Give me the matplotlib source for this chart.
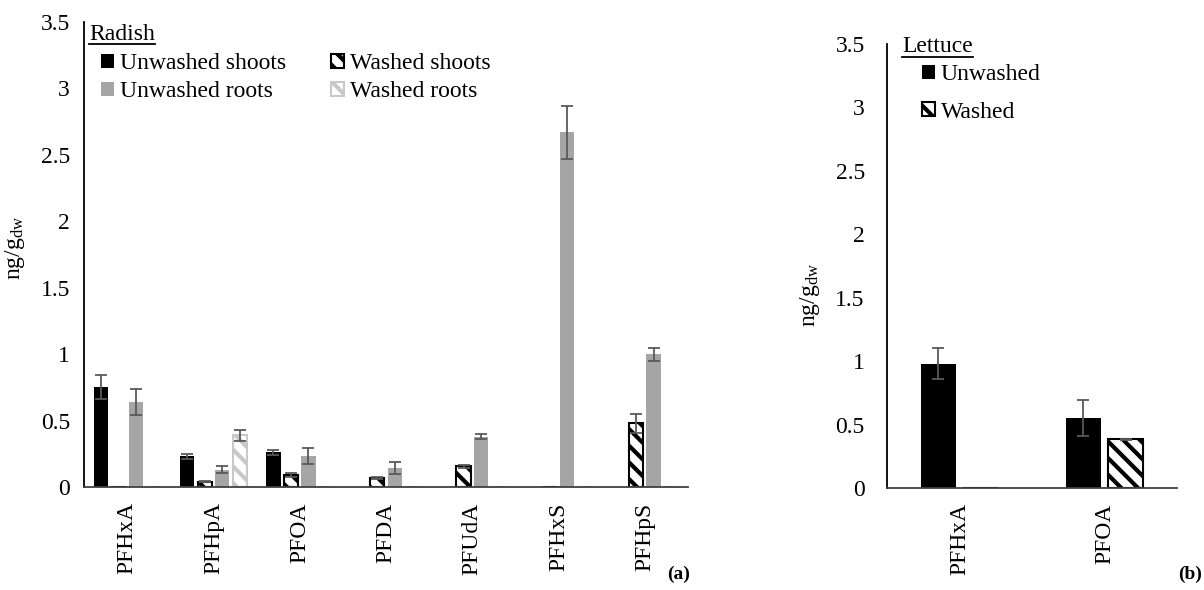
import numpy as np
import matplotlib
matplotlib.use("Agg")
import matplotlib.pyplot as plt
from matplotlib.lines import Line2D

plt.rcParams['font.family'] = ['Liberation Serif', 'DejaVu Serif']
plt.rcParams['mathtext.fontset'] = 'custom'
plt.rcParams['mathtext.rm'] = 'Liberation Serif'
plt.rcParams['mathtext.it'] = 'Liberation Serif:italic'
plt.rcParams['hatch.linewidth'] = 3.0

# ---------------- data ----------------
radish_cats = ["PFHxA", "PFHpA", "PFOA", "PFDA", "PFUdA", "PFHxS", "PFHpS"]
radish_series = ["Unwashed shoots", "Washed shoots", "Unwashed roots", "Washed roots"]
unwashed_shoots = [0.75, 0.23, 0.26, 0.0, 0.0, 0.0, 0.0]
unwashed_shoots_err = [0.09, 0.02, 0.02, 0.0, 0.0, 0.0, 0.0]
washed_shoots = [0.0, 0.04, 0.09, 0.07, 0.155, 0.0, 0.48]
washed_shoots_err = [0.0, 0.005, 0.015, 0.008, 0.01, 0.0, 0.07]
unwashed_roots = [0.64, 0.13, 0.23, 0.14, 0.38, 2.67, 1.0]
unwashed_roots_err = [0.10, 0.025, 0.06, 0.045, 0.022, 0.20, 0.05]
washed_roots = [0.0, 0.39, 0.0, 0.0, 0.0, 0.0, 0.0]
washed_roots_err = [0.0, 0.04, 0.0, 0.0, 0.0, 0.0, 0.0]

lettuce_cats = ["PFHxA", "PFOA"]
lettuce_series = ["Unwashed", "Washed"]
lettuce_unwashed = [0.98, 0.55]
lettuce_unwashed_err = [0.12, 0.14]
lettuce_washed = [0.0, 0.385]
lettuce_washed_err = [0.0, 0.005]

yticks = [0, 0.5, 1, 1.5, 2, 2.5, 3, 3.5]
ytick_labels = ["0", "0.5", "1", "1.5", "2", "2.5", "3", "3.5"]

FS = 17
ERR_C = "#595959"

W, H = 1204, 590
fig = plt.figure(figsize=(W / 100, H / 100), dpi=100)

def fx(px):
    return px / W

def fy(py):
    return 1 - py / H

axL = fig.add_axes([fx(84), fy(487), fx(688) - fx(84), fy(22) - fy(487)])
axR = fig.add_axes([fx(887), fy(488), fx(1177) - fx(887), fy(44) - fy(488)])

styles = [
    dict(color="black", edgecolor="black", linewidth=0),
    dict(color="white", edgecolor="black", hatch="\\\\", linewidth=1.5),
    dict(color="#A5A5A5", edgecolor="#A5A5A5", linewidth=0),
    dict(color="white", edgecolor="#C8C8C8", hatch="\\\\", linewidth=1.5),
]

# ---------------- radish ----------------
x = np.arange(len(radish_cats))
slot = 0.203
bw = 0.165
vals = [unwashed_shoots, washed_shoots, unwashed_roots, washed_roots]
errs = [unwashed_shoots_err, washed_shoots_err, unwashed_roots_err, washed_roots_err]
handlesL = []
for i, (v, e, st) in enumerate(zip(vals, errs, styles)):
    off = (i - 1.5) * slot
    b = axL.bar(x + off, v, bw, label=radish_series[i], **st, zorder=2)
    handlesL.append(b)
    e_arr = np.array(e)
    mask = e_arr > 0
    axL.errorbar((x + off)[mask], np.array(v)[mask], yerr=e_arr[mask], fmt="none",
                 ecolor=ERR_C, elinewidth=1.3, capsize=4, capthick=1.3, zorder=3)

axL.set_xlim(-0.5, len(radish_cats) - 0.5)
axL.set_ylim(0, 3.5)
axL.set_yticks(yticks)
axL.set_yticklabels(ytick_labels)
axL.set_xticks(x)
axL.set_xticklabels(radish_cats, rotation=90)
axL.tick_params(axis="y", length=0, pad=10, labelsize=FS)
axL.tick_params(axis="x", length=0, pad=11, labelsize=FS)
axL.spines["top"].set_visible(False)
axL.spines["right"].set_visible(False)
axL.spines["left"].set_linewidth(1.3)
axL.spines["bottom"].set_linewidth(1.3)
axL.spines["bottom"].set_color("#404040")
axL.set_ylabel(r"ng/g$_{\mathrm{dw}}$", fontsize=FS)

# ---------------- lettuce ----------------
xr = np.arange(len(lettuce_cats))
slotR = 0.29
bwR = 0.235
valsR = [lettuce_unwashed, lettuce_washed]
errsR = [lettuce_unwashed_err, lettuce_washed_err]
stylesR = [styles[0], styles[1]]
handlesR = []
for i, (v, e, st) in enumerate(zip(valsR, errsR, stylesR)):
    off = (i - 0.5) * slotR
    b = axR.bar(xr + off, v, bwR, label=lettuce_series[i], **st, zorder=2)
    handlesR.append(b)
    e_arr = np.array(e)
    mask = e_arr > 0
    axR.errorbar((xr + off)[mask], np.array(v)[mask], yerr=e_arr[mask], fmt="none",
                 ecolor=ERR_C, elinewidth=1.3, capsize=4, capthick=1.3, zorder=3)

axR.set_xlim(-0.5, len(lettuce_cats) - 0.5)
axR.set_ylim(0, 3.5)
axR.set_yticks(yticks)
axR.set_yticklabels(ytick_labels)
axR.set_xticks(xr)
axR.set_xticklabels(lettuce_cats, rotation=90)
axR.tick_params(axis="y", length=0, pad=16, labelsize=FS)
axR.tick_params(axis="x", length=0, pad=11, labelsize=FS)
axR.spines["top"].set_visible(False)
axR.spines["right"].set_visible(False)
axR.spines["left"].set_linewidth(1.3)
axR.spines["bottom"].set_linewidth(1.3)
axR.spines["bottom"].set_color("#404040")
axR.set_ylabel(r"ng/g$_{\mathrm{dw}}$", fontsize=FS)

# ---------------- legends ----------------
# order so that rows read: shoots (unwashed, washed) / roots (unwashed, washed)
orderL = [0, 2, 1, 3]
legL = fig.legend([handlesL[k] for k in orderL], [radish_series[k] for k in orderL],
                  ncol=2, loc="upper left",
                  bbox_to_anchor=(fx(101), fy(53)), frameon=False, fontsize=FS,
                  handlelength=0.55, handleheight=0.55, handletextpad=0.25,
                  columnspacing=1.9, labelspacing=0.3, borderpad=0, borderaxespad=0)
legR = fig.legend(handlesR, lettuce_series, ncol=1, loc="upper left",
                  bbox_to_anchor=(fx(922), fy(64)), frameon=False, fontsize=FS,
                  handlelength=0.55, handleheight=0.55, handletextpad=0.25,
                  labelspacing=0.7, borderpad=0, borderaxespad=0)

tL = fig.text(fx(89), fy(34), "Radish", fontsize=FS, ha="left", va="center")
tR = fig.text(fx(902), fy(47), "Lettuce", fontsize=FS, ha="left", va="center")

fig.text(fx(679), fy(574), "(a)", fontsize=14, fontweight="bold", ha="center", va="center")
fig.text(fx(1190), fy(574), "(b)", fontsize=14, fontweight="bold", ha="center", va="center")

fig.canvas.draw()
r = fig.canvas.get_renderer()
for t in (tL, tR):
    bb = t.get_window_extent(r)
    yline = bb.y0 + 1
    fig.add_artist(Line2D([bb.x0 / W, bb.x1 / W], [yline / H, yline / H],
                          transform=fig.transFigure, color="black", lw=1.3))

axR.yaxis.set_label_coords(fx(822), fy(295), transform=fig.transFigure)
axL.yaxis.set_label_coords(fx(27), fy(248), transform=fig.transFigure)

fig.savefig("out.png", dpi=100)
